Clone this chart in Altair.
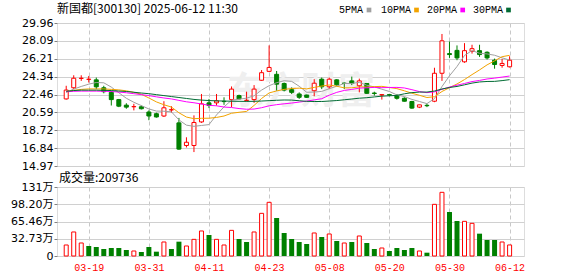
import altair as alt
import pandas as pd

# ---------------- data ----------------
dates = ["03-14", "03-17", "03-18", "03-19", "03-20", "03-21", "03-24", "03-25", "03-26", "03-27", "03-28", "03-31",
         "04-01", "04-02", "04-03", "04-07", "04-08", "04-09", "04-10", "04-11", "04-14", "04-15", "04-16", "04-17",
         "04-18", "04-21", "04-22", "04-23", "04-24", "04-25", "04-28", "04-29", "04-30",
         "05-06", "05-07", "05-08", "05-09", "05-12", "05-13", "05-14", "05-15", "05-16", "05-19", "05-20", "05-21",
         "05-22", "05-23", "05-26", "05-27", "05-28", "05-29", "05-30",
         "06-03", "06-04", "06-05", "06-06", "06-09", "06-10", "06-11", "06-12"]

open_ = [22.00, 23.17, 24.15, 24.05, 24.00, 23.17, 22.69, 21.93, 21.35, 21.18, 21.18, 20.63, 20.45, 20.21, 20.85,
         19.49, 17.12, 17.12, 19.59, 21.59, 21.59, 21.75, 21.93, 22.35, 21.84, 21.93, 23.96, 24.89, 24.58, 23.62,
         22.97, 22.52, 22.41, 22.86, 24.07, 23.27, 24.00, 23.66, 23.89, 23.38, 23.62, 22.62, 22.41, 22.45, 22.35,
         22.07, 21.73, 21.14, 21.33, 21.76, 24.69, 26.75, 27.09, 25.89, 26.99, 27.06, 26.89, 26.06, 25.51, 25.37]
high = [23.38, 24.48, 24.48, 24.41, 24.24, 23.38, 22.86, 22.00, 21.55, 21.49, 21.31, 20.80, 20.56, 21.76, 21.24,
        20.01, 17.98, 20.28, 22.52, 22.00, 22.52, 22.17, 23.31, 22.45, 22.76, 23.45, 25.03, 27.61, 24.93, 23.72,
        23.21, 22.69, 22.45, 24.07, 24.24, 24.24, 24.07, 23.72, 24.34, 24.13, 23.65, 22.76, 22.52, 22.52, 22.52,
        22.17, 21.80, 21.38, 21.49, 25.27, 28.81, 28.02, 27.61, 27.85, 27.68, 27.68, 26.99, 26.23, 26.20, 26.47]
low = [21.93, 23.03, 23.89, 23.72, 23.03, 22.59, 21.31, 21.14, 20.97, 20.80, 20.90, 19.77, 20.04, 20.11, 20.56,
       16.67, 16.91, 16.43, 19.49, 21.04, 21.31, 21.38, 21.14, 21.93, 21.73, 21.59, 23.89, 24.82, 22.86, 22.79,
       22.52, 22.00, 22.10, 22.28, 23.03, 23.03, 23.38, 23.03, 23.45, 22.69, 22.52, 22.35, 21.93, 22.28, 21.93,
       21.73, 20.97, 21.04, 21.14, 21.66, 23.89, 26.30, 26.06, 25.79, 26.75, 26.41, 26.13, 25.17, 25.27, 25.30]
close = [22.93, 24.17, 24.17, 24.07, 23.27, 22.76, 21.93, 21.24, 21.14, 21.20, 20.97, 20.21, 20.11, 21.07, 20.87,
         16.74, 17.46, 19.53, 21.49, 21.31, 21.80, 21.72, 23.03, 22.00, 21.86, 23.03, 24.75, 25.30, 23.55, 22.93,
         22.69, 22.17, 22.17, 23.65, 23.27, 24.07, 23.48, 23.62, 23.62, 23.89, 22.59, 22.57, 22.45, 22.41, 22.07,
         21.76, 21.04, 21.38, 21.29, 24.69, 28.09, 26.65, 26.30, 27.06, 27.27, 26.65, 26.30, 25.61, 25.72, 26.06]

ma5 = [22.69, 23.03, 23.31, 23.55, 23.72, 23.69, 23.24, 22.65, 22.07, 21.65, 21.30, 20.95, 20.73, 20.71, 20.65,
       19.80, 19.25, 19.13, 19.22, 19.31, 20.32, 21.17, 21.87, 21.97, 22.08, 22.33, 22.93, 23.39, 23.70, 23.91,
       23.84, 23.33, 22.70, 22.72, 22.79, 23.07, 23.33, 23.62, 23.61, 23.74, 23.44, 23.26, 23.02, 22.78, 22.42,
       22.25, 21.95, 21.73, 21.51, 22.03, 23.30, 24.42, 25.40, 26.56, 27.07, 26.79, 26.72, 26.58, 26.31, 26.07]
ma10 = [22.75, 22.90, 23.00, 23.05, 23.05, 23.05, 23.00, 22.95, 22.85, 22.69, 22.49, 22.10, 21.69, 21.39, 21.15,
        20.55, 20.10, 19.93, 19.97, 19.98, 20.06, 20.21, 20.50, 20.60, 20.69, 21.32, 22.05, 22.63, 22.84, 23.00,
        23.09, 23.13, 23.05, 23.21, 23.35, 23.46, 23.33, 23.16, 23.17, 23.26, 23.25, 23.29, 23.32, 23.20, 23.08,
        22.85, 22.60, 22.38, 22.15, 22.23, 22.78, 23.18, 23.57, 24.03, 24.55, 25.04, 25.57, 25.99, 26.43, 26.57]
ma20 = [22.75, 22.80, 22.82, 22.82, 22.82, 22.80, 22.78, 22.72, 22.65, 22.55, 22.45, 22.35, 22.22, 22.10, 22.00,
        21.85, 21.70, 21.60, 21.47, 21.33, 21.28, 21.15, 21.10, 20.99, 20.92, 20.94, 21.08, 21.28, 21.40, 21.49,
        21.57, 21.67, 21.77, 21.90, 22.02, 22.39, 22.69, 22.89, 23.00, 23.13, 23.17, 23.21, 23.18, 23.20, 23.21,
        23.15, 22.97, 22.77, 22.66, 22.74, 23.01, 23.24, 23.44, 23.62, 23.82, 23.94, 24.09, 24.18, 24.29, 24.40]
ma30 = [22.80, 22.88, 22.92, 22.92, 22.92, 22.90, 22.88, 22.83, 22.78, 22.70, 22.62, 22.55, 22.45, 22.35, 22.25,
        22.15, 22.05, 21.95, 21.88, 21.83, 21.80, 21.78, 21.76, 21.75, 21.74, 21.75, 21.78, 21.82, 21.86, 21.89,
        21.88, 21.81, 21.75, 21.73, 21.73, 21.78, 21.83, 21.91, 21.99, 22.08, 22.13, 22.21, 22.29, 22.33, 22.37,
        22.54, 22.66, 22.72, 22.72, 22.83, 23.04, 23.20, 23.31, 23.48, 23.66, 23.78, 23.83, 23.84, 23.92, 24.02]

volume = [20.9, 45.6, 24.7, 19.0, 17.1, 13.3, 15.2, 15.2, 11.4, 9.5, 7.6, 17.1, 8.2, 26.6, 13.3, 27.2, 19.0, 31.6,
          47.5, 39.9, 31.6, 20.9, 48.7, 32.3, 26.6, 45.6, 81.0, 101.9, 72.2, 43.7, 32.3, 26.6, 22.8, 43.7, 36.1,
          41.8, 28.5, 24.7, 26.6, 38.0, 24.7, 13.3, 15.2, 9.5, 15.2, 11.4, 15.2, 9.5, 6.3, 98.1, 120.9, 83.5, 66.5,
          65.8, 62.0, 42.4, 30.4, 30.4, 26.6, 20.97]
vol_red = [1, 1, 1, 0, 0, 0, 0, 0, 0, 1, 0, 0, 0, 1, 0, 0, 1, 1, 1, 0, 1, 1, 1, 0, 0, 1, 1, 1, 0, 0,
           0, 0, 0, 1, 0, 1, 0, 1, 0, 1, 0, 0, 1, 0, 0, 0, 0, 1, 0, 1, 1, 0, 0, 1, 1, 0, 0, 0, 1, 1]

price_ticks = [14.97, 16.84, 18.72, 20.59, 22.46, 24.34, 26.21, 28.09, 29.96]
vol_ticks = [0, 32.73, 65.46, 98.20, 131]
tick_labels = ["03-19", "03-31", "04-11", "04-23", "05-08", "05-20", "05-30", "06-12"]
ma_names = ["5PMA", "10PMA", "20PMA", "30PMA"]
title_text = "新国都[300130] 2025-06-12 11:30"
vol_title = "成交量:209736"
watermark = "东方财富"

# ---------------- build ----------------
RED = "#ff0000"
GREEN = "#008000"
MA_COLORS = ["#a0a0a0", "#f2a300", "#ff00ff", "#006b33"]

df = pd.DataFrame({
    "idx": list(range(len(dates))), "date": dates,
    "open": open_, "high": high, "low": low, "close": close,
    "ma5": ma5, "ma10": ma10, "ma20": ma20, "ma30": ma30,
    "vol": volume, "vred": vol_red,
})
df["dir"] = ["up" if c >= o else "down" for o, c in zip(open_, close)]

W, H1, H2 = 467, 143, 69
tick_idx = [dates.index(t) for t in tick_labels]
label_expr = "[" + ",".join("'%s'" % d for d in dates) + "][datum.value]"
x_scale = alt.Scale(domain=[-0.56, 60.25], nice=False, zero=False)
GRID_V = dict(grid=True, gridDash=[4, 3], gridColor="#c8c8c8", gridWidth=1)

x_top = alt.X("idx:Q", scale=x_scale,
              axis=alt.Axis(values=tick_idx, labels=False, ticks=False, domain=False, title=None, **GRID_V))
price_scale = alt.Scale(domain=[14.97, 29.96], nice=False, zero=False)
y_price_axis = alt.Axis(values=price_ticks, format=".2f", grid=True, gridColor="#d0d0d0", tickSize=3,
                        tickColor="#808080", domain=False, labelFont="DejaVu Sans", labelFontSize=11,
                        labelColor="#000000", labelPadding=1, title=None, minExtent=55, maxExtent=55,
                        labelOverlap=False, labelFlush=False, labelBound=False)


def py(field):
    return alt.Y(f"{field}:Q", scale=price_scale, axis=y_price_axis)


base = alt.Chart(df)

wm = alt.Chart(pd.DataFrame({"t": [watermark]})).mark_text(
    font="Noto Sans CJK SC", fontSize=37, fontWeight="bold", color="#efefef", align="center", baseline="middle"
).encode(text="t:N", x=alt.value(244), y=alt.value(70))

wick = base.mark_rule(strokeWidth=1).encode(
    x=x_top,
    y=py("high"),
    y2="low:Q",
    color=alt.Color("dir:N", scale=alt.Scale(domain=["up", "down"], range=[RED, GREEN]), legend=None),
)
body_up = base.transform_filter("datum.dir == 'up'").mark_bar(
    size=4, fill="white", stroke=RED, strokeWidth=1
).encode(x=x_top, y=py("open"), y2="close:Q")
body_dn = base.transform_filter("datum.dir == 'down'").mark_bar(
    size=4, fill=GREEN, stroke=GREEN, strokeWidth=1
).encode(x=x_top, y=py("open"), y2="close:Q")

ma_lines = [
    base.mark_line(strokeWidth=1, color=c).encode(x=x_top, y=py(f))
    for f, c in zip(["ma5", "ma10", "ma20", "ma30"], MA_COLORS)
]

title_mark = alt.Chart(pd.DataFrame({"t": [title_text]})).mark_text(
    font="Noto Sans CJK SC", fontSize=12, color="#000000", align="left", baseline="middle"
).encode(text="t:N", x=alt.value(0), y=alt.value(-14))

legend_layers = []
text_x = [282, 324, 370, 416]
sq_x = [312, 359.5, 405.7, 451.5]
for name, col, tx, sx in zip(ma_names, MA_COLORS, text_x, sq_x):
    legend_layers.append(
        alt.Chart(pd.DataFrame({"t": [name]})).mark_text(
            font="Liberation Mono", fontSize=10, color="#000000", align="left", baseline="middle"
        ).encode(text="t:N", x=alt.value(tx), y=alt.value(-13))
    )
    legend_layers.append(
        alt.Chart(pd.DataFrame({"t": [name]})).mark_square(size=22, color=col, opacity=1).encode(
            x=alt.value(sx), y=alt.value(-13))
    )

top = alt.layer(wm, wick, body_up, body_dn, *ma_lines, title_mark, *legend_layers).properties(width=W, height=H1)

# volume panel
x_bot = alt.X("idx:Q", scale=x_scale,
              axis=alt.Axis(values=tick_idx, labelExpr=label_expr, labelColor=RED, labelFont="Liberation Mono",
                            labelFontSize=10, labelPadding=6, ticks=False, domain=False, title=None,
                            labelFlush=False, labelOverlap=False, **GRID_V))
vol_scale = alt.Scale(domain=[0, 131], nice=False, zero=True)
vol_axis = alt.Axis(values=vol_ticks,
                    labelExpr="datum.value == 0 ? '0' : (datum.value == 131 ? '131万' : format(datum.value, '.2f') + '万')",
                    grid=True, gridColor="#d0d0d0", tickSize=3, tickColor="#808080", domain=False,
                    labelFont="DejaVu Sans, Noto Sans CJK SC", labelFontSize=11, labelColor="#000000",
                    labelPadding=1, title=None, minExtent=55, maxExtent=55,
                    labelOverlap=False, labelFlush=False, labelBound=False)

vol_up = base.transform_filter("datum.vred == 1").mark_bar(
    size=4, fill="white", stroke=RED, strokeWidth=1
).encode(x=x_bot, y=alt.Y("vol:Q", scale=vol_scale, axis=vol_axis))
vol_dn = base.transform_filter("datum.vred == 0").mark_bar(
    size=5, fill=GREEN, strokeWidth=0
).encode(x=x_bot, y=alt.Y("vol:Q", scale=vol_scale, axis=vol_axis))
vol_title_mark = alt.Chart(pd.DataFrame({"t": [vol_title]})).mark_text(
    font="Noto Sans CJK SC", fontSize=12, color="#000000", align="left", baseline="middle"
).encode(text="t:N", x=alt.value(2), y=alt.value(-9))

bottom = alt.layer(vol_up, vol_dn, vol_title_mark).properties(width=W, height=H2)

chart = alt.vconcat(top, bottom, spacing=21, bounds="flush").properties(
    padding={"left": 1, "top": 2, "right": 0, "bottom": 0}
).configure_view(stroke="#999999", strokeWidth=1).configure(background="white")

chart.save("out.html", embed_options={"renderer": "svg", "actions": False})
